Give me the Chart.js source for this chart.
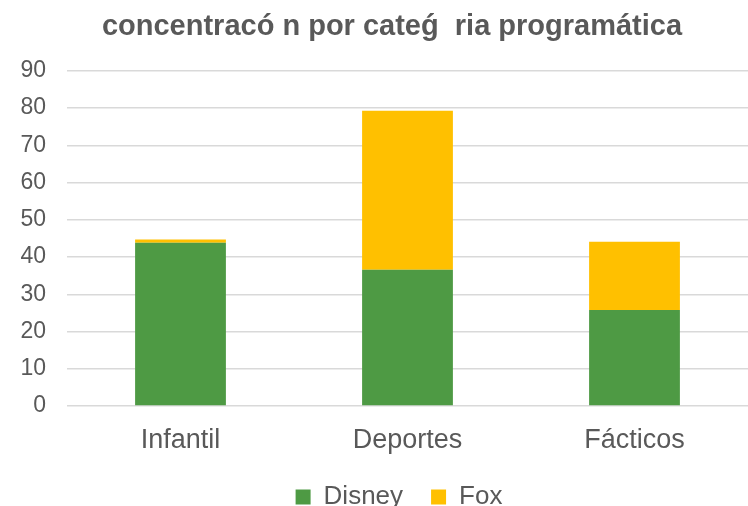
<!DOCTYPE html>
<html>
<head>
<meta charset="utf-8">
<script src="https://cdn.jsdelivr.net/npm/chart.js@4"></script>
<style>
html,body{margin:0;padding:0;background:#fff;}
#wrap{width:748px;height:506px;position:relative;}
</style>
</head>
<body>
<div id="wrap"><canvas id="c" width="748" height="506"></canvas></div>
<script>
const categories = ["Infantil", "Deportes", "Fácticos"];
const disney = [43.8, 36.6, 25.8];
const fox = [0.9, 42.7, 18.3];
const yTicks = [0, 10, 20, 30, 40, 50, 60, 70, 80, 90];
const titleText = "concentracó n por categ\u0301  ria programática";

const FONT = "'Liberation Sans', Arial, sans-serif";

const shiftBlocks = {
  id: 'shiftBlocks',
  afterLayout(chart) {
    if (chart.legend) { chart.legend.left += 16; chart.legend.right += 16; }
    if (chart.titleBlock) { chart.titleBlock.left += 9; chart.titleBlock.right += 9; }
  }
};

new Chart(document.getElementById('c'), {
  type: 'bar',
  data: {
    labels: categories,
    datasets: [
      { label: 'Disney', data: disney, backgroundColor: '#4e9a44', borderWidth: 0 },
      { label: 'Fox', data: fox, backgroundColor: '#ffc000', borderWidth: 0 }
    ]
  },
  plugins: [shiftBlocks],
  options: {
    responsive: false,
    animation: false,
    devicePixelRatio: 1,
    layout: { padding: { left: 18, right: 0, top: 0, bottom: -14 } },
    datasets: { bar: { barPercentage: 0.4, categoryPercentage: 1.0 } },
    plugins: {
      title: {
        display: true, text: titleText, color: '#595959',
        font: { family: FONT, size: 29, weight: 'bold', lineHeight: 1.2 },
        padding: { top: 10, bottom: 26 }
      },
      legend: {
        position: 'bottom',
        labels: {
          color: '#595959', font: { family: FONT, size: 26 },
          boxWidth: 15, boxHeight: 15, padding: 28
        }
      },
      tooltip: { enabled: false }
    },
    scales: {
      x: {
        stacked: true,
        grid: { display: false, drawTicks: false },
        border: { display: false },
        ticks: { color: '#595959', font: { family: FONT, size: 27 }, padding: 18 },
        afterFit: (axis) => { axis.height = 50; }
      },
      y: {
        stacked: true, min: 0, max: 90,
        afterBuildTicks: (axis) => { axis.ticks = yTicks.map(v => ({ value: v })); },
        grid: { color: '#d9d9d9', lineWidth: 1.5, drawTicks: false },
        border: { display: false },
        ticks: { color: '#595959', font: { family: FONT, size: 23 }, padding: 21 },
        afterFit: (axis) => { axis.width = 49; }
      }
    }
  }
});
</script>
</body>
</html>
